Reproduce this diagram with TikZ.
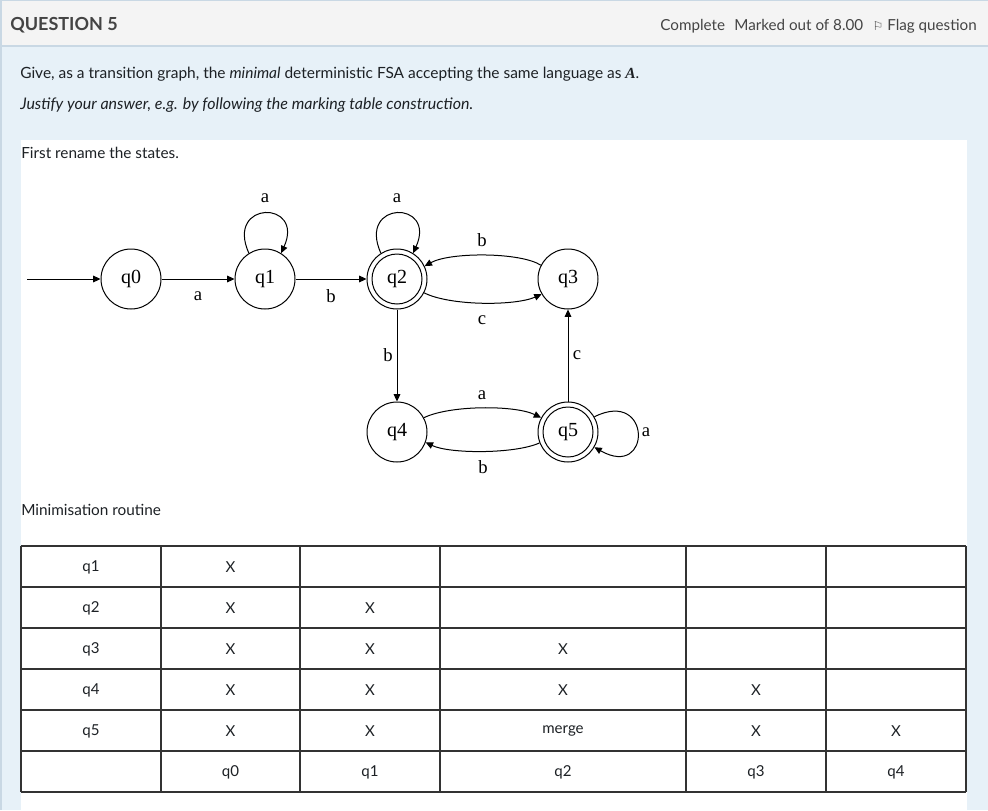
\documentclass[tikz,border=0pt]{standalone}
\usepackage{fontspec}
\setmainfont{Lato}
\newfontfamily\serifd{Liberation Serif}
\newfontfamily\symf{DejaVu Sans}
\usetikzlibrary{arrows.meta}
\definecolor{hdrbg}{HTML}{F4F4F4}
\definecolor{bodybg}{HTML}{E7F1F8}
\definecolor{bordc}{HTML}{C9D8E4}
\definecolor{txt}{HTML}{1D2125}
\definecolor{hdrtxt}{HTML}{444444}
\definecolor{tline}{HTML}{333333}
\begin{document}
\begin{tikzpicture}[x=0.75pt,y=-0.75pt,
  st/.style={circle,draw,line width=0.75pt,minimum size=45pt,inner sep=0pt,font=\serifd\fontsize{15}{15}\selectfont},
  arr/.style={-{Triangle[length=5.5pt,width=5pt]},line width=0.75pt},
  lbl/.style={inner sep=0pt,font=\serifd\fontsize{14}{14}\selectfont},
  cell/.style={inner sep=0pt,text=txt,font=\fontsize{11.3}{12}\selectfont},
  bodyt/.style={anchor=base west,inner sep=0pt,text=txt,font=\fontsize{11.5}{13}\selectfont}]
\useasboundingbox (0,0) rectangle (988,810);
\fill[bodybg] (0,0) rectangle (988,810);
\fill[hdrbg] (0,0) rectangle (988,46);
\draw[bordc,line width=1pt] (0,46) -- (988,46);
\draw[bordc,line width=1pt] (0,0.5) -- (988,0.5);
\draw[bordc,line width=1.5pt] (1,0) -- (1,810);
\fill[white] (21,140) rectangle (967,810);
% header
\node[anchor=base west,inner sep=0pt,text=hdrtxt,font=\bfseries\fontsize{13.5}{16}\selectfont] (title) at (10,31) {QUESTION 5};
\node[anchor=base east,inner sep=0pt,text=hdrtxt,font=\fontsize{11.4}{13}\selectfont] (hright) at (977,30)
  {Complete\hspace{7pt}Marked out of 8.00\hspace{7pt}{\symf\fontsize{9}{10}\selectfont ⚐}\hspace{3pt}Flag question};
% question text
\node[bodyt,font=\fontsize{11.6}{13}\selectfont] (give) at (20,78) {Give, as a transition graph, the \textit{minimal} deterministic FSA accepting the same language as {\serifd\bfseries\itshape A}.};
\node[bodyt,font=\itshape\fontsize{12}{13}\selectfont] (just) at (20,109) {Justify your answer, e.g. by following the marking table construction.};
\node[bodyt] (first) at (21,158) {First rename the states.};
\node[bodyt] (minr) at (21,515) {Minimisation routine};
% automaton
\node[st] (q0) at (131,279) {q0};
\node[st] (q1) at (265,279) {q1};
\node[st] (q2) at (397,279) {q2};
\node[st] (q3) at (568,279) {q3};
\node[st] (q4) at (397,432) {q4};
\node[st] (q5) at (568,432) {q5};
\draw[line width=0.75pt] (q2.center) circle[radius=25];
\draw[line width=0.75pt] (q5.center) circle[radius=25];
\coordinate (init) at (27,279);
\draw[arr] (init) -- (q0);
\draw[arr] (q0) -- (q1);
\draw[arr] (q1) -- (q2);
\draw[arr] (q1.122) .. controls (225,200) and (305,200) .. (q1.58);
\draw[arr] (q2.122) .. controls (357,200) and (437,200) .. (q2.58);
\draw[arr] (q3.153) .. controls (520,252) and (450,252) .. (q2.25);
\draw[arr] (q2.-27) .. controls (450,306) and (515,306) .. (q3.210);
\draw[arr] (q2) -- (q4);
\draw[arr] (q5) -- (q3);
\draw[arr] (q4.28) .. controls (450,405) and (515,405) .. (q5.152);
\draw[arr] (q5.201) .. controls (515,454) and (450,454) .. (q4.-20);
\draw[arr] (q5.30) .. controls (652,388) and (652,480) .. (q5.-30);
\node[lbl] (l01) at (198,296) {a};
\node[lbl] (l12) at (331,296) {b};
\node[lbl] (l11) at (265,198) {a};
\node[lbl] (l22) at (397,198) {a};
\node[lbl] (l32) at (482,240) {b};
\node[lbl] (l23) at (482,320) {c};
\node[lbl] (l24) at (388,355) {b};
\node[lbl] (l53) at (577,355) {c};
\node[lbl] (l45) at (482,395) {a};
\node[lbl] (l54) at (483,467) {b};
\node[lbl] (l55) at (646,432) {a};
% table
\foreach \yy in {546,587,628,669,710,751,792} \draw[tline,line width=1.2pt] (21,\yy) -- (966,\yy);
\foreach \xx in {21,161,300,440,686,826,966} \draw[tline,line width=1.2pt] (\xx,546) -- (\xx,792);
\node[cell] (r1a) at (91,567) {q1};
\node[cell] (r1b) at (230.5,567) {X};
\node[cell] (r2a) at (91,608) {q2};
\node[cell] (r2b) at (230.5,608) {X};
\node[cell] (r2c) at (370,608) {X};
\node[cell] (r3a) at (91,649) {q3};
\node[cell] (r3b) at (230.5,649) {X};
\node[cell] (r3c) at (370,649) {X};
\node[cell] (r3d) at (563,649) {X};
\node[cell] (r4a) at (91,690) {q4};
\node[cell] (r4b) at (230.5,690) {X};
\node[cell] (r4c) at (370,690) {X};
\node[cell] (r4d) at (563,690) {X};
\node[cell] (r4e) at (756,690) {X};
\node[cell] (r5a) at (91,731) {q5};
\node[cell] (r5b) at (230.5,731) {X};
\node[cell] (r5c) at (370,731) {X};
\node[cell] (r5d) at (563,731) {merge};
\node[cell] (r5e) at (756,731) {X};
\node[cell] (r5f) at (896,731) {X};
\node[cell] (r6b) at (230.5,772) {q0};
\node[cell] (r6c) at (370,772) {q1};
\node[cell] (r6d) at (563,772) {q2};
\node[cell] (r6e) at (756,772) {q3};
\node[cell] (r6f) at (896,772) {q4};
\end{tikzpicture}
\end{document}
